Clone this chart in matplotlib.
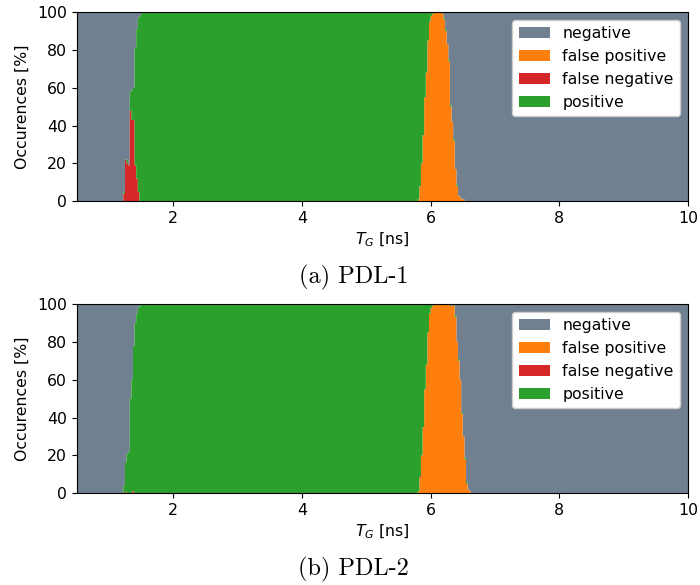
import numpy as np
import matplotlib
matplotlib.use("Agg")
from matplotlib import pyplot as plt

plt.rcParams["font.size"] = 11.3

# bin grid of the histograms [ns]
bin_width = 0.025
x_min, x_max = 0.5, 10.0

# PDL-1: left transition (false negatives + positives), start of first bin
pdl1_left_x0 = 1.225
pdl1_left_fn = [4, 22, 20, 19, 48, 43, 43, 19, 12, 5, 0]
pdl1_left_pos = [1, 0, 2, 0, 10, 16, 17, 62, 79, 92, 98]
# PDL-1: right transition (false positives + positives)
pdl1_right_x0 = 5.8
pdl1_right_fp = [1, 8, 20, 35, 55, 68, 85, 95, 98, 99, 100, 100, 100, 100, 100,
                 99, 96, 90, 83, 74, 50, 42, 32, 17, 8, 3, 2, 1, 1]
pdl1_right_pos = [99, 92, 80, 65, 45, 32, 15, 5, 2, 1, 0, 0, 0, 0, 0,
                  1, 1, 1, 0, 1, 1, 0, 1, 0, 1, 0, 0, 0, 0]

# PDL-2
pdl2_left_x0 = 1.225
pdl2_left_fn = [0, 1, 0, 0, 0, 1, 1, 0, 0, 0, 0]
pdl2_left_pos = [4, 15, 21, 22, 50, 59, 77, 90, 95, 98, 99]
pdl2_right_x0 = 5.8
pdl2_right_fp = [1, 8, 20, 35, 55, 68, 85, 95, 98, 99, 100, 100, 100, 100, 100,
                 100, 100, 100, 100, 100, 99, 99, 99, 93, 80, 70, 60, 42, 30, 18,
                 5, 2, 1]
pdl2_right_pos = [99, 91, 80, 65, 45, 32, 15, 5, 2, 1, 0, 0, 0, 0, 0,
                  0, 0, 0, 0, 0, 1, 0, 1, 1, 0, 1, 0, 1, 0, 1,
                  1, 0, 0]
pdl2_right_fn = [0, 1]

labels = ["negative", "false positive", "false negative", "positive"]
colors = ["slategray", "tab:orange", "tab:red", "tab:green"]
captions = ["(a) PDL-1", "(b) PDL-2"]


def build(left_x0, left_fn, left_pos, right_x0, right_fp, right_pos, right_fn=()):
    edges = np.arange(x_min, x_max + bin_width / 2, bin_width)
    n = len(edges) - 1
    fp = np.zeros(n)
    fn = np.zeros(n)
    pos = np.zeros(n)
    i_left = int(round((left_x0 - x_min) / bin_width))
    i_right = int(round((right_x0 - x_min) / bin_width))
    i_mid = i_left + len(left_pos)
    pos[i_mid:i_right] = 100
    fn[i_left:i_mid] = left_fn
    pos[i_left:i_mid] = left_pos
    fp[i_right:i_right + len(right_fp)] = right_fp
    pos[i_right:i_right + len(right_pos)] = right_pos
    fn[i_right:i_right + len(right_fn)] = right_fn
    neg = 100 - fp - fn - pos
    return edges, neg, fp, fn, pos


panels = [
    build(pdl1_left_x0, pdl1_left_fn, pdl1_left_pos,
          pdl1_right_x0, pdl1_right_fp, pdl1_right_pos),
    build(pdl2_left_x0, pdl2_left_fn, pdl2_left_pos,
          pdl2_right_x0, pdl2_right_fp, pdl2_right_pos, pdl2_right_fn),
]

fig = plt.figure(figsize=(7, 5.85), dpi=100)
W, H = 700, 585
axes_tops = [12, 304]

for (edges, neg, fp, fn, pos), top, caption in zip(panels, axes_tops, captions):
    ax = fig.add_axes([76.7 / W, 1 - (top + 189.3) / H, (688 - 76.7) / W, 189.3 / H])
    # stacking from the bottom: fp, fn, pos, neg
    b_fp = np.zeros_like(fp)
    b_fn = b_fp + fp
    b_pos = b_fn + fn
    b_neg = b_pos + pos
    ax.stairs(b_neg + neg, edges, baseline=b_neg, fill=True, color=colors[0], label=labels[0])
    ax.stairs(b_fp + fp, edges, baseline=b_fp, fill=True, color=colors[1], label=labels[1])
    ax.stairs(b_fn + fn, edges, baseline=b_fn, fill=True, color=colors[2], label=labels[2])
    ax.stairs(b_pos + pos, edges, baseline=b_pos, fill=True, color=colors[3], label=labels[3])
    ax.set_xlim(x_min, x_max)
    ax.set_ylim(0, 100)
    ax.set_xticks([2, 4, 6, 8, 10])
    ax.set_yticks([0, 20, 40, 60, 80, 100])
    ax.set_xlabel(r"$T_G$ [ns]", labelpad=3)
    ax.set_ylabel("Occurences [%]", labelpad=5)
    ax.legend(loc="upper right", framealpha=1)
    fig.text(0.505, 1 - (top + 265) / H, caption, family="cmr10", fontsize=17.5,
             ha="center", va="center")

fig.savefig("out.png", dpi=100)
